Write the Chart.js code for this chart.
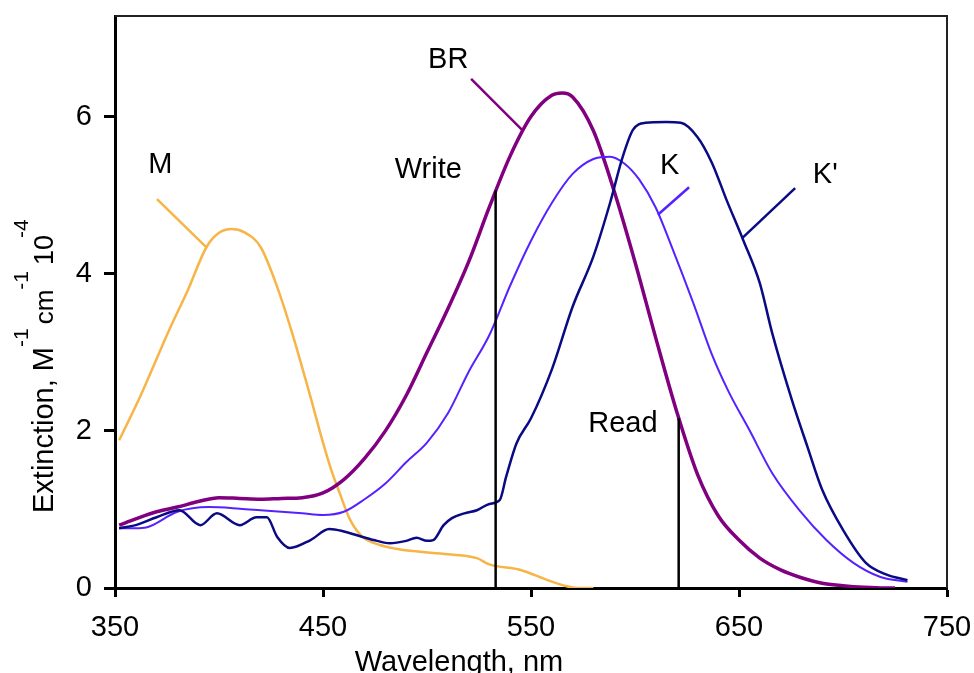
<!DOCTYPE html>
<html>
<head>
<meta charset="utf-8">
<script src="https://cdn.jsdelivr.net/npm/chart.js@4"></script>
<style>
  body { margin: 0; background: #fff; }
  canvas { display: block; }
</style>
</head>
<body>
<canvas id="chart" width="974" height="673"></canvas>
<script>
// spectra, wavelength in nm, extinction in 10^4 M-1 cm-1
const mWave = [352, 362, 376, 385, 394, 400, 406, 412, 420, 428, 435, 444, 450, 454, 458, 463, 469, 477, 485, 493, 510, 524, 530, 545, 558, 566, 572, 580];
const mVals = [1.88, 2.43, 3.28, 3.79, 4.34, 4.52, 4.57, 4.53, 4.34, 3.83, 3.26, 2.43, 1.85, 1.50, 1.21, 0.87, 0.65, 0.55, 0.50, 0.47, 0.43, 0.38, 0.30, 0.23, 0.10, 0.03, 0.0, 0.0];

const brWave = [352, 360, 370, 380, 390, 400, 410, 420, 430, 440, 450, 460, 470, 480, 490, 500, 510, 520, 530, 540, 550, 560, 565, 570, 580, 590, 600, 610, 620, 630, 640, 650, 660, 670, 680, 690, 700, 710, 720, 725];
const brVals = [0.80, 0.88, 0.97, 1.03, 1.10, 1.15, 1.14, 1.13, 1.14, 1.15, 1.21, 1.38, 1.65, 2.00, 2.45, 3.00, 3.55, 4.15, 4.85, 5.50, 6.00, 6.27, 6.30, 6.25, 5.82, 5.05, 4.15, 3.18, 2.25, 1.45, 0.92, 0.61, 0.38, 0.23, 0.13, 0.06, 0.03, 0.01, 0.0, 0.0];

const kWave = [352, 360, 365, 380, 395, 410, 420, 440, 450, 460, 470, 480, 490, 500, 510, 520, 530, 540, 550, 560, 570, 580, 588, 595, 602, 610, 618, 628, 637, 645, 655, 666, 679, 692, 705, 718, 731];
const kVals = [0.76, 0.76, 0.77, 0.97, 1.03, 1.01, 0.99, 0.95, 0.93, 0.97, 1.13, 1.33, 1.60, 1.85, 2.22, 2.75, 3.22, 3.85, 4.42, 4.90, 5.27, 5.46, 5.49, 5.40, 5.20, 4.84, 4.32, 3.63, 2.97, 2.50, 2.01, 1.46, 0.99, 0.61, 0.32, 0.14, 0.08];

const kpWave = [352, 360, 370, 381, 391, 399, 410, 418, 423, 428, 434, 444, 453, 460, 469, 476, 482, 490, 495, 500, 503, 508, 512, 518, 524, 530, 535, 538, 543, 550, 560, 570, 580, 588, 594, 599, 605, 615, 622, 630, 637, 644, 652, 660, 666, 675, 683, 690, 700, 711, 721, 731];
const kpVals = [0.76, 0.80, 0.90, 0.99, 0.80, 0.95, 0.80, 0.90, 0.90, 0.65, 0.51, 0.61, 0.75, 0.72, 0.65, 0.60, 0.57, 0.60, 0.64, 0.60, 0.61, 0.80, 0.89, 0.95, 0.99, 1.07, 1.12, 1.41, 1.84, 2.16, 2.78, 3.58, 4.22, 4.90, 5.48, 5.83, 5.92, 5.93, 5.92, 5.74, 5.41, 4.94, 4.43, 3.88, 3.24, 2.43, 1.79, 1.25, 0.74, 0.32, 0.17, 0.10];

// laser lines
const writeWave = 533, writeTop = 5.06;
const readWave = 621, readTop = 2.16;

// labels and leader lines, in data units
const labelTexts = ["M", "BR", "Write", "K", "K'", "Read"];
const labelWave = [366, 500.5, 484.5, 612, 685.5, 577.5];
const labelVals = [5.28, 6.62, 5.22, 5.27, 5.15, 1.98];
const leaderFrom = [[370.2, 4.95], [521.2, 6.48], [626, 5.10], [677, 5.09]];
const leaderTo = [[394.2, 4.33], [545.7, 5.83], [611, 4.75], [651.4, 4.45]];
const leaderColors = ["#F7B447", "#800080", "#5522FF", "#0A0A85"];

const xTicks = [350, 450, 550, 650, 750];
const yTicks = [0, 2, 4, 6];

const FONT = "'Liberation Sans', Arial, sans-serif";

function pts(xs, ys) {
  return xs.map((x, i) => ({ x: x, y: ys[i] }));
}

function curve(data, color, width) {
  return {
    data: data,
    borderColor: color,
    borderWidth: width,
    pointRadius: 0,
    fill: false,
    cubicInterpolationMode: "monotone"
  };
}

function straight(data, color, width) {
  return { data: data, borderColor: color, borderWidth: width, pointRadius: 0, fill: false, tension: 0 };
}

const datasets = [
  straight([{ x: writeWave, y: 0 }, { x: writeWave, y: writeTop }], "#000", 2.5),
  straight([{ x: readWave, y: 0 }, { x: readWave, y: readTop }], "#000", 2.5),
  curve(pts(kpWave, kpVals), "#0A0A85", 2.5),
  curve(pts(kWave, kVals), "#5522FF", 2),
  curve(pts(brWave, brVals), "#800080", 3.5),
  curve(pts(mWave, mVals), "#F7B447", 2.5)
];
leaderFrom.forEach((p, i) => {
  datasets.push(straight([{ x: p[0], y: p[1] }, { x: leaderTo[i][0], y: leaderTo[i][1] }], leaderColors[i], 2.5));
});

const extras = {
  id: "extras",
  afterDraw(chart) {
    const ctx = chart.ctx;
    const xs = chart.scales.x, ys = chart.scales.y;
    const a = chart.chartArea;
    ctx.save();

    // frame top/right
    ctx.strokeStyle = "#222";
    ctx.lineWidth = 2;
    ctx.beginPath();
    ctx.moveTo(a.left, a.top);
    ctx.lineTo(a.right, a.top);
    ctx.lineTo(a.right, a.bottom);
    ctx.stroke();

    // curve labels
    ctx.fillStyle = "#000";
    ctx.textBaseline = "alphabetic";
    ctx.textAlign = "left";
    ctx.font = "29px " + FONT;
    labelTexts.forEach((t, i) => {
      ctx.fillText(t, xs.getPixelForValue(labelWave[i]), ys.getPixelForValue(labelVals[i]));
    });

    // x title
    ctx.textAlign = "center";
    ctx.fillText("Wavelength, nm", 459, 671);

    // y title with superscripts
    ctx.translate(53, 513);
    ctx.rotate(-Math.PI / 2);
    ctx.textAlign = "left";
    const parts = [
      ["Extinction, M", 29, 0, 0],
      ["-1", 21, 25, 0],
      ["cm", 26, 0, 4],
      ["-1", 21, 25, 0],
      ["10", 27, 0, 6],
      ["-4", 21, 25, -3]
    ];
    let pos = 0;
    parts.forEach(([t, size, rise, gap]) => {
      pos += gap;
      ctx.font = size + "px " + FONT;
      ctx.fillText(t, pos, -rise);
      pos += ctx.measureText(t).width;
    });
    ctx.restore();
  }
};

new Chart(document.getElementById("chart"), {
  type: "line",
  data: { datasets },
  options: {
    responsive: false,
    animation: false,
    events: [],
    layout: { padding: { top: 16, right: 27, left: 0, bottom: 0 } },
    plugins: { legend: { display: false }, tooltip: { enabled: false } },
    scales: {
      x: {
        type: "linear",
        min: 350,
        max: 750,
        afterBuildTicks: s => { s.ticks = xTicks.map(v => ({ value: v })); },
        afterFit: s => { s.height = 85; s.paddingLeft = 0; s.paddingRight = 0; },
        border: { display: true, color: "#000", width: 3 },
        grid: { drawOnChartArea: false, drawTicks: true, tickLength: 9, tickColor: "#000", tickWidth: 3 },
        ticks: { color: "#000", padding: 14, font: { family: FONT, size: 29 }, maxRotation: 0 }
      },
      y: {
        type: "linear",
        min: 0,
        max: 7.28,
        afterBuildTicks: s => { s.ticks = yTicks.map(v => ({ value: v })); },
        afterFit: s => { s.width = 115; s.paddingTop = 0; s.paddingBottom = 0; },
        border: { display: true, color: "#000", width: 3 },
        grid: { drawOnChartArea: false, drawTicks: true, tickLength: 11, tickColor: "#000", tickWidth: 3 },
        ticks: { color: "#000", padding: 12, font: { family: FONT, size: 29 } }
      }
    }
  },
  plugins: [extras]
});
</script>
</body>
</html>
